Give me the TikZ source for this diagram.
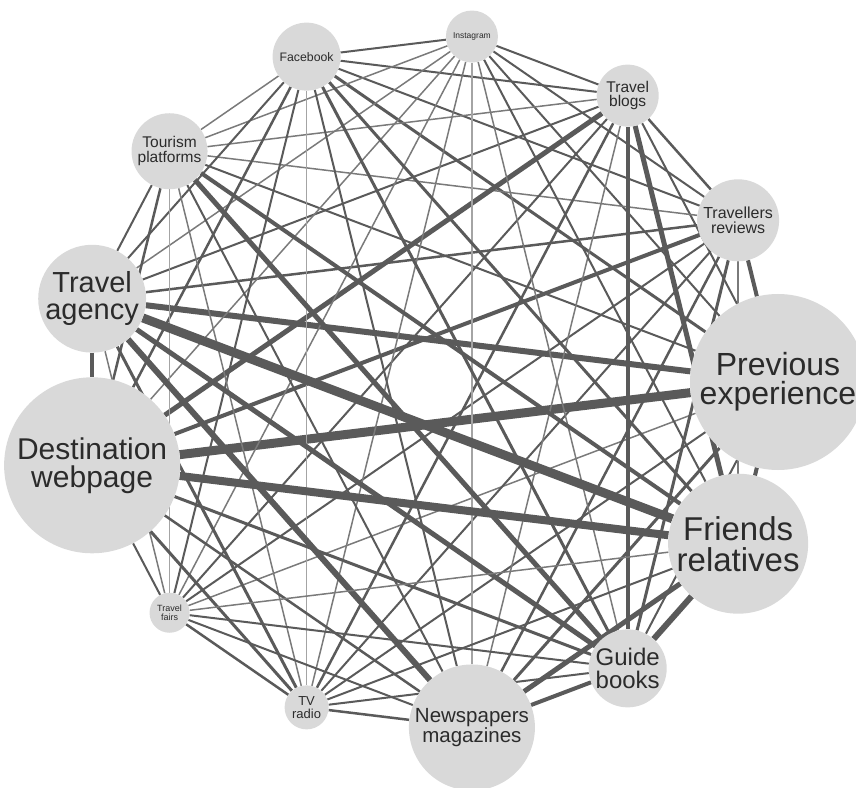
\documentclass[tikz,border=0pt]{standalone}
\usepackage{fontspec}
\setmainfont{Liberation Sans}
\usetikzlibrary{backgrounds}
\definecolor{Bubble}{HTML}{D9D9D9}
\definecolor{Ink}{HTML}{2B2B2B}
\definecolor{Edge}{HTML}{5A5A5A}
\definecolor{EdgeMid}{HTML}{7A7A7A}
\definecolor{EdgeSoft}{HTML}{A4A4A4}
\tikzset{
  src/.style={circle,fill=Bubble,text=Ink,align=center,inner sep=0pt},
  link/.style={draw=Edge,line width=#1pt},
  weak/.style={draw=EdgeMid,line width=1.5pt},
  faint/.style={draw=EdgeSoft,line width=1.2pt}
}

\begin{document}
\begin{tikzpicture}
\useasboundingbox (-430pt,-405pt) rectangle (426pt,382pt);
\clip (-430pt,-405pt) rectangle (426pt,382pt);
% sources on a ring, 360/13 degrees apart
\node[src,minimum size=176pt,font=\fontsize{32}{29}\selectfont] (pe) at (0:348pt) {Previous\\experience};
\node[src,minimum size=82pt,font=\fontsize{16}{15}\selectfont] (tr) at (27.69:348pt) {Travellers\\reviews};
\node[src,minimum size=62pt,font=\fontsize{15.5}{14.5}\selectfont] (tb) at (55.38:348pt) {Travel\\blogs};
\node[src,minimum size=52pt,font=\fontsize{8.5}{8}\selectfont] (ig) at (83.08:348pt) {Instagram};
\node[src,minimum size=68pt,font=\fontsize{12.3}{12}\selectfont] (fb) at (110.77:348pt) {Facebook};
\node[src,minimum size=76pt,font=\fontsize{15.5}{14.5}\selectfont] (tp) at (138.46:348pt) {Tourism\\platforms};
\node[src,minimum size=104pt,font=\fontsize{29}{27}\selectfont] (ta) at (166.15:348pt) {Travel\\agency};
\node[src,minimum size=176pt,font=\fontsize{30}{28}\selectfont] (dw) at (193.85:348pt) {Destination\\webpage};
\node[src,minimum size=40pt,font=\fontsize{9}{8.5}\selectfont] (tf) at (221.54:348pt) {Travel\\fairs};
\node[src,minimum size=44pt,font=\fontsize{13}{12.5}\selectfont] (tv) at (249.23:348pt) {TV\\radio};
\node[src,minimum size=126pt,font=\fontsize{20.5}{19.5}\selectfont] (nm) at (276.92:348pt) {Newspapers\\magazines};
\node[src,minimum size=78pt,font=\fontsize{24}{22.5}\selectfont] (gb) at (304.62:348pt) {Guide\\books};
\node[src,minimum size=140pt,font=\fontsize{33}{31}\selectfont] (fr) at (332.31:348pt) {Friends\\relatives};

\begin{scope}[on background layer]
% co-mentions, width = strength
\draw[link=4] (pe)--(tr);\draw[link=2] (pe)--(tb);\draw[link=2] (pe)--(ig);\draw[link=3] (pe)--(fb);
\draw[link=2] (pe)--(tp);\draw[link=6] (pe)--(ta);\draw[link=9] (pe)--(dw);\draw[weak] (pe)--(tf);
\draw[link=2] (pe)--(tv);\draw[link=3] (pe)--(nm);\draw[link=2] (pe)--(gb);\draw[link=4] (pe)--(fr);
\draw[link=2.5] (tr)--(tb);\draw[link=2] (tr)--(ig);\draw[link=2] (tr)--(fb);\draw[weak] (tr)--(tp);
\draw[link=2.5] (tr)--(ta);\draw[link=4] (tr)--(dw);\draw[link=2] (tr)--(tf);\draw[link=2] (tr)--(tv);
\draw[link=2.5] (tr)--(nm);\draw[link=3] (tr)--(gb);\draw[weak] (tr)--(fr);
\draw[link=2] (tb)--(ig);\draw[link=2] (tb)--(fb);\draw[weak] (tb)--(tp);\draw[link=2] (tb)--(ta);
\draw[link=5] (tb)--(dw);\draw[link=2] (tb)--(tf);\draw[link=2.5] (tb)--(tv);\draw[weak] (tb)--(nm);
\draw[link=4] (tb)--(gb);\draw[link=5] (tb)--(fr);
\draw[link=2] (ig)--(fb);\draw[weak] (ig)--(tp);\draw[weak] (ig)--(ta);\draw[weak] (ig)--(dw);
\draw[weak] (ig)--(tf);\draw[weak] (ig)--(tv);\draw[faint] (ig)--(nm);\draw[weak] (ig)--(gb);
\draw[link=2] (ig)--(fr);
\draw[weak] (fb)--(tp);\draw[link=2] (fb)--(ta);\draw[link=2.5] (fb)--(dw);\draw[link=2] (fb)--(tf);
\draw[faint] (fb)--(tv);\draw[link=2] (fb)--(nm);\draw[link=3] (fb)--(gb);\draw[link=3] (fb)--(fr);
\draw[link=2] (tp)--(ta);\draw[link=2.5] (tp)--(dw);\draw[faint] (tp)--(tf);\draw[weak] (tp)--(tv);
\draw[link=2] (tp)--(nm);\draw[link=5] (tp)--(gb);\draw[link=4] (tp)--(fr);
\draw[link=3.5] (ta)--(dw);\draw[weak] (ta)--(tf);\draw[link=3] (ta)--(tv);\draw[link=6] (ta)--(nm);
\draw[link=5] (ta)--(gb);\draw[link=9] (ta)--(fr);
\draw[link=2] (dw)--(tf);\draw[link=3] (dw)--(tv);\draw[link=2.5] (dw)--(nm);\draw[link=3] (dw)--(gb);
\draw[link=8] (dw)--(fr);
\draw[link=2.5] (tf)--(tv);\draw[link=2] (tf)--(nm);\draw[link=2] (tf)--(gb);\draw[weak] (tf)--(fr);
\draw[link=2.5] (tv)--(nm);\draw[link=2] (tv)--(gb);\draw[link=2] (tv)--(fr);
\draw[link=4] (nm)--(gb);\draw[link=5] (nm)--(fr);
\draw[link=6] (gb)--(fr);
\end{scope}
\end{tikzpicture}
\end{document}
